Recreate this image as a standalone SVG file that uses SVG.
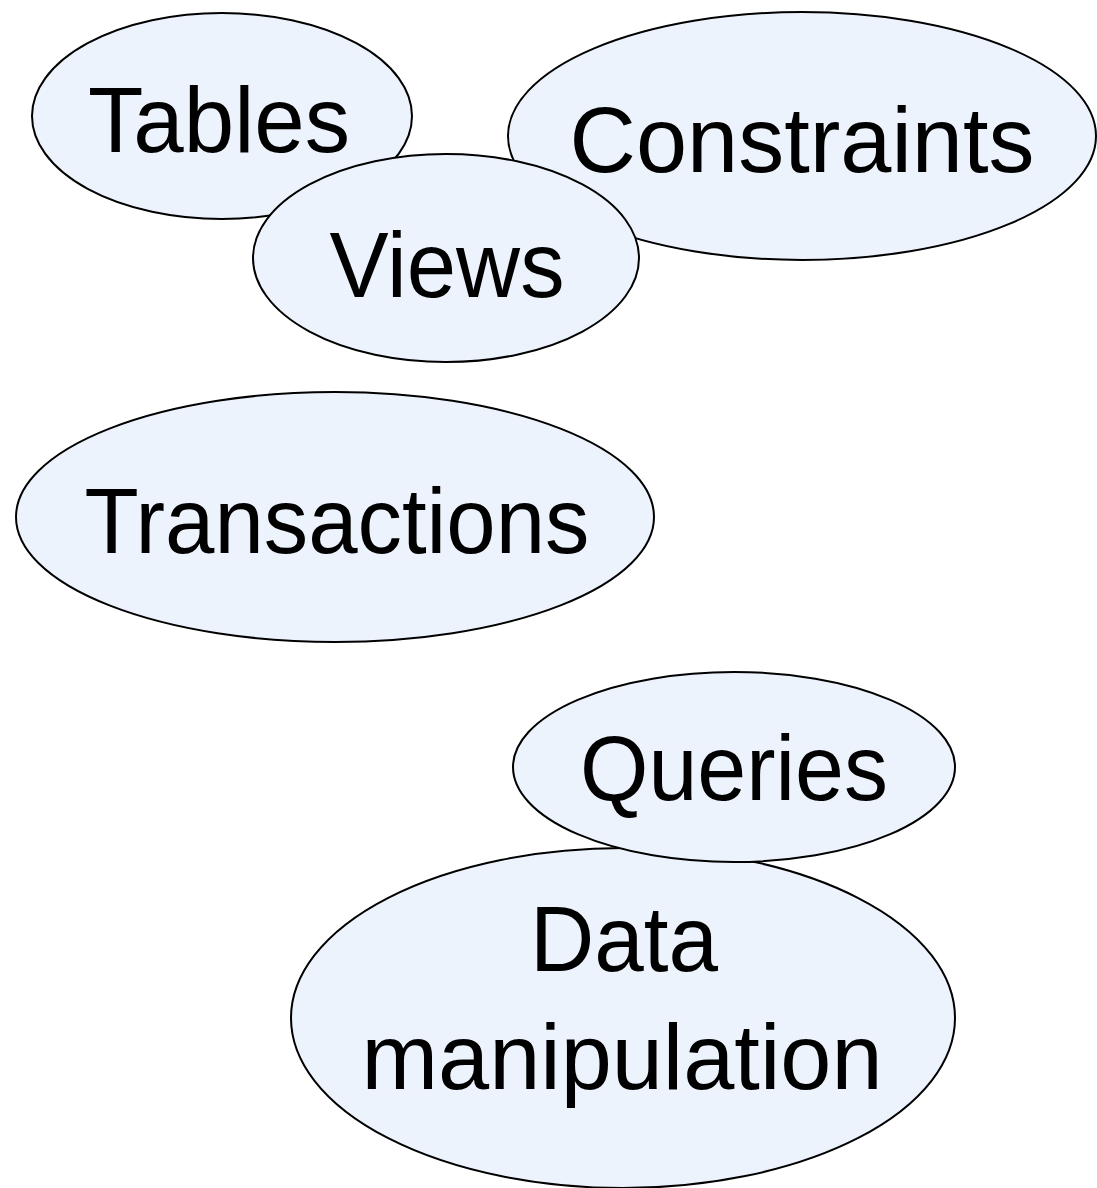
<svg xmlns="http://www.w3.org/2000/svg" width="1097" height="1188" viewBox="0 0 1097 1188">
<style>
.n ellipse{fill:#EDF3FC;stroke:#000;stroke-width:2}
.n text{font-family:"Liberation Sans",Arial,sans-serif;font-size:92px;fill:#000;text-anchor:middle}
</style>
<rect width="1097" height="1188" fill="#fff"/>
<g id="tables" class="n"><ellipse cx="222" cy="116" rx="190" ry="103"/><text x="219" y="152" textLength="262" lengthAdjust="spacingAndGlyphs">Tables</text></g>
<g id="constraints" class="n"><ellipse cx="802" cy="136" rx="294" ry="124"/><text x="802" y="172" textLength="465" lengthAdjust="spacingAndGlyphs">Constraints</text></g>
<g id="views" class="n"><ellipse cx="446" cy="258" rx="193" ry="104"/><text x="447" y="297" textLength="235" lengthAdjust="spacingAndGlyphs">Views</text></g>
<g id="transactions" class="n"><ellipse cx="335" cy="517" rx="319" ry="125"/><text x="337" y="553" textLength="505" lengthAdjust="spacingAndGlyphs">Transactions</text></g>
<g id="data-manipulation" class="n"><ellipse cx="623" cy="1018" rx="332" ry="170"/><text x="624" y="971" textLength="188" lengthAdjust="spacingAndGlyphs">Data</text><text x="622" y="1089" textLength="521" lengthAdjust="spacingAndGlyphs">manipulation</text></g>
<g id="queries" class="n"><ellipse cx="734" cy="767" rx="221" ry="95"/><text x="734" y="800" textLength="308" lengthAdjust="spacingAndGlyphs">Queries</text></g>
<g id="connectors"></g>
</svg>
